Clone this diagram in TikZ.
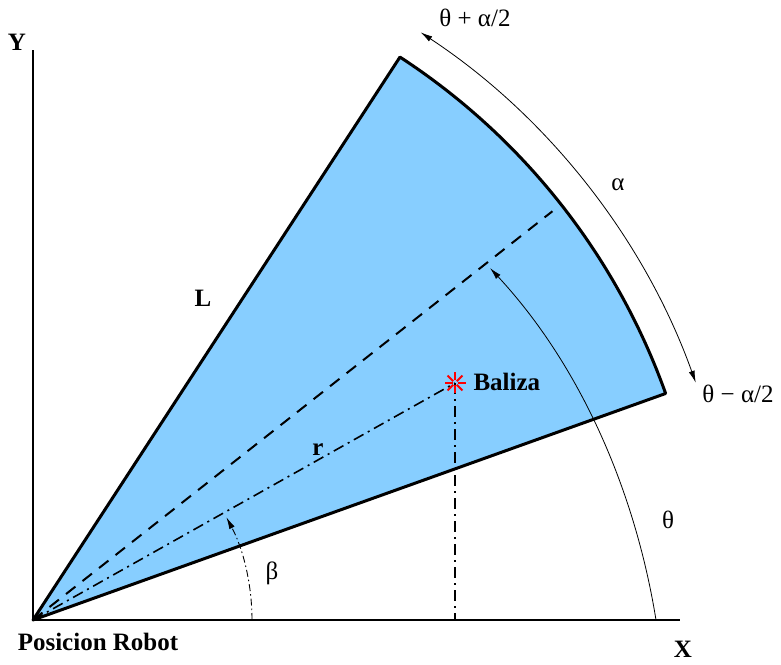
\documentclass[tikz,border=0pt]{standalone}
\usepackage{fontspec}
\setmainfont{Liberation Serif}
\usepackage{xcolor}
\usetikzlibrary{arrows.meta}
\definecolor{celeste}{RGB}{135,206,255}

\begin{document}
\begin{tikzpicture}[x=1pt, y=1pt, >={Latex[length=12pt, width=6pt]},
  font=\fontsize{25}{30}\selectfont,
  negrita/.style={font=\fontsize{25}{30}\selectfont\bfseries},
  borde/.style={line width=3pt, line join=round},
  fino/.style={line width=0.8pt},
  rayas/.style={line width=2pt, dash pattern=on 12pt off 9pt},
  rayapunto/.style={line width=1.6pt, dash pattern=on 11pt off 5pt on 2pt off 5pt}]

  \useasboundingbox (-33,-44) rectangle (748,620);

  % 0. Puntos de referencia
  \coordinate (robot) at (0,0);
  \coordinate (baliza) at (422,237);
  \coordinate (pie) at (422,0);
  \coordinate (ejeX) at (647,0);
  \coordinate (ejeY) at (0,570);
  \coordinate (medio) at (38.2:661);

  % 1. Sector del sensor (relleno)
  \fill[celeste] (robot) -- (19.7:672) arc (19.7:56.9:672) -- cycle;

  % 2. Ejes
  \draw[line width=1.4pt] (robot) -- (ejeX);
  \draw[line width=1.4pt] (robot) -- (ejeY);
  \node[negrita] (x) at (650,-29) {X};
  \node[negrita] (y) at (-16,578) {Y};
  \node[negrita] (pos) at (65,-22) {Posicion Robot};

  % 3. Direccion central (theta) y linea a la baliza
  \draw[rayas] (robot) -- (medio);
  \draw[rayapunto] (robot) -- (baliza);
  \draw[line width=1.1pt, dash pattern=on 11pt off 5pt on 2pt off 5pt] (baliza) -- (pie);

  % 4. Borde del sector
  \draw[borde] (robot) -- (19.7:672) arc (19.7:56.9:672) -- cycle;

  % 5. Baliza (estrella roja)
  \foreach \a in {0,45,...,315}
    \draw[red, line width=2pt] (baliza) ++(\a:2.5) -- ++(\a:8);
  \node[negrita, anchor=west] (bal) at (437,238) {Baliza};

  % 6. Arco alfa (apertura)
  \draw[fino, <->] (56.6:704) arc (56.6:19.7:704);
  \node (alfa) at (585,435) {α};
  \node (sup) at (442,602) {θ + α/2};
  \node (inf) at (705,226) {θ − α/2};

  % 7. Arco theta
  \draw[fino, ->] (623,0) .. controls (602,130) and (547,255) .. (457,352);
  \node (theta) at (635,100) {θ};

  % 8. Arco beta
  \draw[line width=0.9pt, dash pattern=on 7pt off 3pt on 1.5pt off 3pt, ->] (0:219) arc (0:28:219);
  \node (beta) at (239,47) {β};

  % 9. Etiquetas L y r
  \node[negrita] (ele) at (170,322) {L};
  \node[negrita] (erre) at (285,170) {r};

\end{tikzpicture}
\end{document}
